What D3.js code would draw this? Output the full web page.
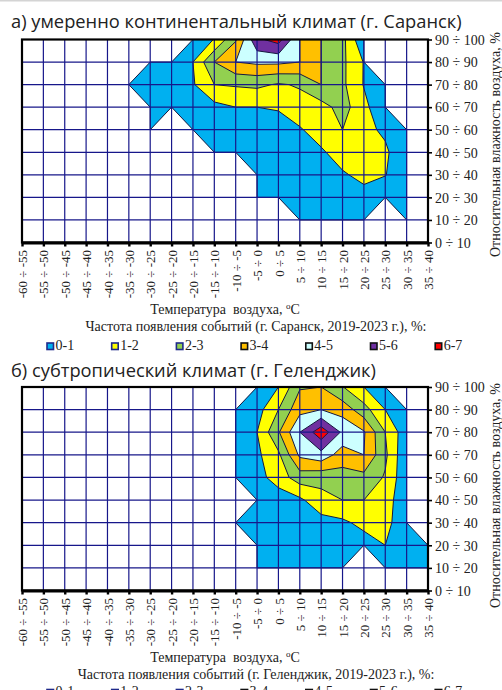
<!DOCTYPE html>
<html>
<head>
<meta charset="utf-8">
<script src="https://cdn.jsdelivr.net/npm/d3@7"></script>
<style>
  body { margin: 0; background: #fff; }
  svg { display: block; }
  text { white-space: pre; }
</style>
</head>
<body>
<svg id="chart" width="502" height="690"></svg>
<script>
// Temperature classes (x) and relative humidity classes (y)
const tempLabels = ["-60 ÷ -55","-55 ÷ -50","-50 ÷ -45","-45 ÷ -40","-40 ÷ -35","-35 ÷ -30",
  "-30 ÷ -25","-25 ÷ -20","-20 ÷ -15","-15 ÷ -10","-10 ÷ -5","-5 ÷ 0","0 ÷ 5","5 ÷ 10",
  "10 ÷ 15","15 ÷ 20","20 ÷ 25","25 ÷ 30","30 ÷ 35","35 ÷ 40"];
const humidityLabels = ["0 ÷ 10","10 ÷ 20","20 ÷ 30","30 ÷ 40","40 ÷ 50","50 ÷ 60",
  "60 ÷ 70","70 ÷ 80","80 ÷ 90","90 ÷ 100"];

// Frequency bands, %
const bandLabels = ["0-1","1-2","2-3","3-4","4-5","5-6","6-7"];
const bandThresholds = [0, 1, 2, 3, 4, 5, 6];
const bandColors = ["#00B0F0","#FFFF00","#92D050","#FFC000","#CCFFFF","#7030A0","#FF0000"];
const bandBorders = ["#1f2a8a","#1f2a8a","#1f2a8a","#111","#111","#111","#111"];

const _ = null; // no observations in this class

// Frequency of events, %; rows run from 90÷100 % down to 0÷10 %
const saransk = [
  [_,_,_,_,_,_,_,_,0.1,1.05,2.9,5.8,6.4,4.0,3.0,2.3,0.1,_,_,_],
  [_,_,_,_,_,_,0.1,0.3,1.0,3.0,4.0,4.2,4.2,4.0,3.0,2.2,0.95,_,_,_],
  [_,_,_,_,_,0.1,0.3,0.5,0.9,2.0,2.1,2.2,1.9,2.1,3.0,2.2,0.94,0.1,_,_],
  [_,_,_,_,_,_,0.1,0.1,0.4,0.7,1.0,1.0,1.1,1.6,1.6,2.4,1.3,0.1,_,_],
  [_,_,_,_,_,_,0.1,_,0.1,0.3,0.4,0.5,0.5,0.9,1.5,2.0,1.3,0.8,0.1,_],
  [_,_,_,_,_,_,_,_,_,0.1,0.1,0.3,0.3,0.4,0.85,1.5,1.95,1.2,0.1,_],
  [_,_,_,_,_,_,_,_,_,_,_,0.1,0.2,0.3,0.5,0.87,1.3,1.05,0.1,_],
  [_,_,_,_,_,_,_,_,_,_,_,0.1,0.1,0.3,0.3,0.5,0.6,0.1,0.2,_],
  [_,_,_,_,_,_,_,_,_,_,_,_,_,0.1,0.2,0.2,0.1,_,0.1,_],
  [_,_,_,_,_,_,_,_,_,_,_,_,_,_,_,_,_,_,_,_]
];

const gelendzhik = [
  [_,_,_,_,_,_,_,_,_,_,_,0.1,1.0,2.9,3.0,2.05,1.0,0.1,_,_],
  [_,_,_,_,_,_,_,_,_,_,0.1,0.6,2.0,3.7,4.0,3.6,2.4,1.0,0.1,_],
  [_,_,_,_,_,_,_,_,_,_,0.1,1.0,2.9,5.0,6.65,4.8,4.1,2.0,0.33,_],
  [_,_,_,_,_,_,_,_,_,_,0.1,0.8,1.8,4.2,4.65,3.5,4.0,2.2,0.1,_],
  [_,_,_,_,_,_,_,_,_,_,0.1,0.6,1.5,2.5,2.3,2.6,2.7,1.9,0.2,_],
  [_,_,_,_,_,_,_,_,_,_,_,0.1,0.4,0.8,1.7,2.0,2.0,1.5,0.2,_],
  [_,_,_,_,_,_,_,_,_,_,0.1,0.2,0.3,0.4,0.6,0.8,1.3,1.4,0.1,_],
  [_,_,_,_,_,_,_,_,_,_,_,0.1,0.2,0.3,0.3,0.4,0.5,1.0,0.4,0.1],
  [_,_,_,_,_,_,_,_,_,_,_,0.1,0.1,0.1,0.1,0.1,_,0.1,0.1,0.1],
  [_,_,_,_,_,_,_,_,_,_,_,_,_,_,_,_,_,_,_,_]
];

const panels = [
  { title: "а) умеренно континентальный климат (г. Саранск)", data: saransk,
    city: "г. Саранск", top: 39.5, bottom: 242.5, titleY: 28, yTitleEnd: 32,
    xTitleY: 314, legendTitleY: 330.5, legendY: 349.5 },
  { title: "б) субтропический климат (г. Геленджик)", data: gelendzhik,
    city: "г. Геленджик", top: 387, bottom: 590.5, titleY: 377, yTitleEnd: 383,
    xTitleY: 662, legendTitleY: 679, legendY: 696 }
];

const X0 = 22, X1 = 428;
const serif = "'Liberation Serif','Times New Roman',serif";
const svg = d3.select("#chart");

svg.append("line").attr("x1", 0).attr("x2", 502).attr("y1", 0.8).attr("y2", 0.8)
  .attr("stroke", "#d4d4d4").attr("stroke-width", 1.6);

panels.forEach((p, k) => {
  const g = svg.append("g");
  const x = d3.scalePoint().domain(tempLabels).range([X0, X1]);
  const y = d3.scalePoint().domain(humidityLabels).range([p.bottom, p.top]);
  // grid-index scales for the contour geometry (row 0 = top row)
  const xi = d3.scaleLinear().domain([0, tempLabels.length - 1]).range([X0, X1]);
  const yi = d3.scaleLinear().domain([0, humidityLabels.length - 1]).range([p.top, p.bottom]);

  // panel title
  g.append("text").attr("x", 11).attr("y", p.titleY)
    .attr("font-family", "'Open Sans',sans-serif").attr("font-size", 18.3)
    .attr("fill", "#222").text(p.title);

  // filled contour bands
  const nx = tempLabels.length, ny = humidityLabels.length;
  const bands = d3.contours().size([nx, ny]).thresholds(bandThresholds)(p.data.flat());
  const proj = d3.geoTransform({
    point(px, py) { this.stream.point(xi(px - 0.5), yi(py - 0.5)); }
  });
  const path = d3.geoPath(proj);
  const clipId = "plot-clip-" + k;
  g.append("clipPath").attr("id", clipId).append("rect")
    .attr("x", X0).attr("y", p.top).attr("width", X1 - X0).attr("height", p.bottom - p.top);
  g.append("g").attr("clip-path", `url(#${clipId})`)
    .selectAll("path").data(bands).join("path")
    .attr("d", path)
    .attr("fill", d => bandColors[bandThresholds.indexOf(d.value)])
    .attr("stroke", "#15173f").attr("stroke-width", 1).attr("stroke-linejoin", "round");

  // grid
  g.append("g").selectAll("line").data(tempLabels).join("line")
    .attr("x1", d => x(d)).attr("x2", d => x(d)).attr("y1", p.top).attr("y2", p.bottom)
    .attr("stroke", "#17178a").attr("stroke-width", 1.2);
  g.append("g").selectAll("line").data(humidityLabels).join("line")
    .attr("x1", X0).attr("x2", X1).attr("y1", d => y(d)).attr("y2", d => y(d))
    .attr("stroke", "#17178a").attr("stroke-width", 1.2);

  // frame
  g.append("rect").attr("x", X0).attr("y", p.top).attr("width", X1 - X0).attr("height", p.bottom - p.top)
    .attr("fill", "none").attr("stroke", "#000").attr("stroke-width", 2.2);

  // bottom axis with rotated class labels
  const ax = g.append("g").attr("transform", `translate(0,${p.bottom})`)
    .call(d3.axisBottom(x).tickSize(4).tickSizeOuter(0));
  ax.select(".domain").attr("stroke", "#000").attr("stroke-width", 3);
  ax.selectAll(".tick line").attr("stroke", "#000").attr("stroke-width", 2.4);
  ax.selectAll(".tick text")
    .attr("transform", "rotate(-90)").attr("text-anchor", "end")
    .attr("x", -7.5).attr("y", 4.6).attr("dy", null)
    .attr("font-family", serif).attr("font-size", 13).attr("fill", "#222");

  // right axis
  const ay = g.append("g").attr("transform", `translate(${X1},0)`)
    .call(d3.axisRight(y).tickSize(4).tickSizeOuter(0).tickPadding(3));
  ay.select(".domain").remove();
  ay.selectAll(".tick line").attr("stroke", "#000").attr("stroke-width", 1.6);
  ay.selectAll(".tick text").attr("font-family", serif).attr("font-size", 14)
    .attr("fill", "#222").attr("dy", "0.34em");

  // right axis title
  g.append("text").attr("transform", `translate(500,${p.yTitleEnd}) rotate(-90)`)
    .attr("text-anchor", "end").attr("font-family", serif).attr("font-size", 14)
    .attr("fill", "#222").text("Относительная влажность воздуха, %");

  // x axis title
  const xt = g.append("text").attr("x", 225).attr("y", p.xTitleY).attr("text-anchor", "middle")
    .attr("font-family", serif).attr("font-size", 14).attr("fill", "#222");
  xt.append("tspan").text("Температура  воздуха, ");
  xt.append("tspan").attr("font-size", 9).attr("dy", -5).text("о");
  xt.append("tspan").attr("dy", 5).text("С");

  // legend
  g.append("text").attr("x", 256).attr("y", p.legendTitleY).attr("text-anchor", "middle")
    .attr("font-family", serif).attr("font-size", 14).attr("fill", "#222")
    .text(`Частота появления событий (${p.city}, 2019-2023 г.), %:`);
  const items = g.append("g").selectAll("g").data(bandLabels).join("g")
    .attr("transform", (d, i) => `translate(${47 + i * 64.7},${p.legendY})`);
  items.append("rect").attr("x", 0).attr("y", -6.5).attr("width", 6.5).attr("height", 6.5)
    .attr("fill", (d, i) => bandColors[i]).attr("stroke", (d, i) => bandBorders[i]).attr("stroke-width", 1.6);
  items.append("text").attr("x", 8.5).attr("y", 0)
    .attr("font-family", serif).attr("font-size", 14).attr("fill", "#222").text(d => d);
});
</script>
</body>
</html>
